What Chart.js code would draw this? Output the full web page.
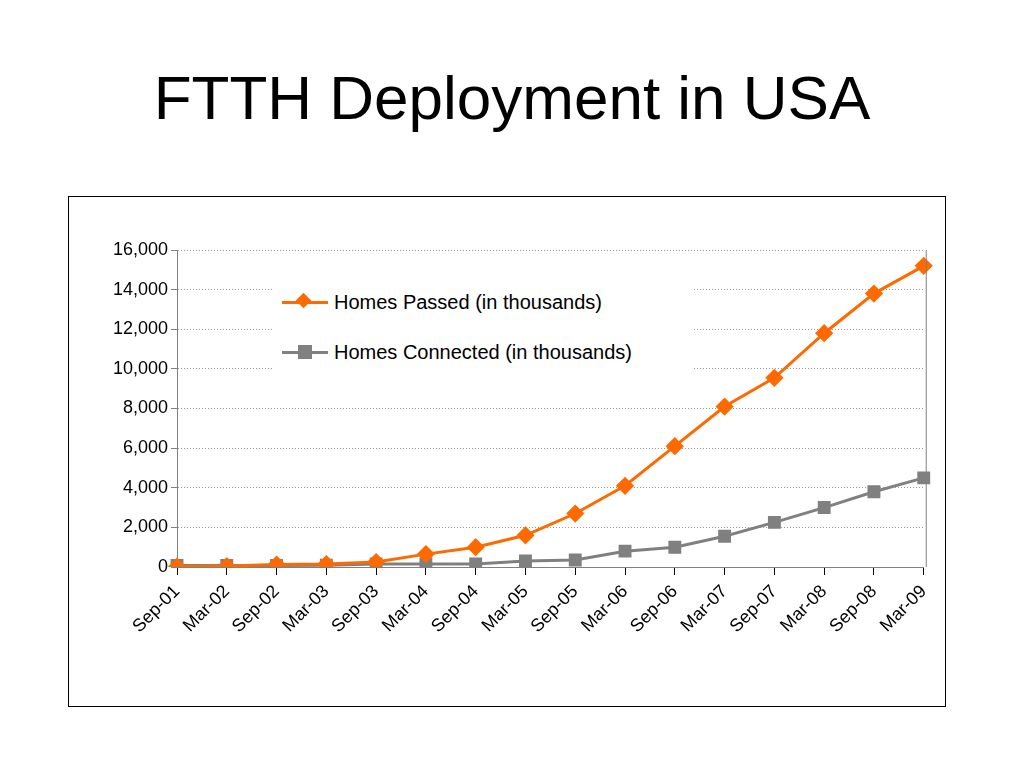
<!DOCTYPE html>
<html><head><meta charset="utf-8">
<script src="https://cdn.jsdelivr.net/npm/chart.js@4"></script>
<style>
body{margin:0;width:1024px;height:768px;background:#fff;font-family:"Liberation Sans",Arial,sans-serif;position:relative;overflow:hidden}
#title{position:absolute;top:62px;left:0;width:1024px;text-align:center;font-size:62px}
#box{position:absolute;left:68px;top:196px;width:876px;height:509px;border:1px solid #000}
#legend{position:absolute;left:272px;top:280px;width:420px;height:92px;background:#fff;font-size:20px}
.row{position:absolute;left:10px;height:24px;line-height:24px;white-space:nowrap}
.ln{position:absolute;top:11px;left:0;width:46px;height:3px}
.mk{position:absolute}
.txt{position:absolute;left:52px;top:0}
</style></head><body>
<div id="title">FTTH Deployment in USA</div>
<div id="box"><canvas id="c" width="876" height="509"></canvas></div>
<div id="legend">
 <div class="row" style="top:10px"><div class="ln" style="background:#ff6a00"></div><div class="mk" style="left:16px;top:5px;width:11px;height:11px;background:#ff6a00;transform:rotate(45deg)"></div><div class="txt">Homes Passed (in thousands)</div></div>
 <div class="row" style="top:60px"><div class="ln" style="background:#808080"></div><div class="mk" style="left:16px;top:5px;width:14px;height:14px;background:#808080"></div><div class="txt">Homes Connected (in thousands)</div></div>
</div>
<script>
var labels = ['Sep-01','Mar-02','Sep-02','Mar-03','Sep-03','Mar-04','Sep-04','Mar-05','Sep-05','Mar-06','Sep-06','Mar-07','Sep-07','Mar-08','Sep-08','Mar-09'];
var homesPassed = [20,50,120,150,250,650,1000,1600,2700,4100,6100,8100,9550,11800,13800,15200];
var homesConnected = [80,80,80,90,150,150,150,300,350,800,1000,1550,2250,3000,3800,4500];

// right border of the plot area
var plotBorder = {
	id: 'plotBorder',
	afterDraw: function(ch) {
		var a = ch.chartArea, c = ch.ctx;
		c.save();
		c.strokeStyle = '#808080';
		c.lineWidth = 1;
		c.beginPath();
		c.moveTo(a.right + 2.5, a.top);
		c.lineTo(a.right + 2.5, a.bottom);
		c.stroke();
		c.restore();
	}
};

var ctx = document.getElementById('c').getContext('2d');
var chart = new Chart(ctx, {
	type: 'line',
	data: {
		labels: labels,
		datasets: [{
			label: 'Homes Passed (in thousands)',
			data: homesPassed,
			borderColor: '#ff6a00',
			backgroundColor: '#ff6a00',
			borderWidth: 3,
			pointStyle: 'rectRot',
			pointRadius: 7,
			tension: 0
		}, {
			label: 'Homes Connected (in thousands)',
			data: homesConnected,
			borderColor: '#808080',
			backgroundColor: '#808080',
			borderWidth: 3,
			pointStyle: 'rect',
			pointRadius: 7,
			tension: 0
		}]
	},
	options: {
		responsive: false,
		animation: false,
		layout: { padding: { top: 53, right: -14, bottom: 0, left: 0 } },
		plugins: { legend: { display: false }, tooltip: { enabled: false } },
		scales: {
			x: {
				offset: false,
				grid: { display: true, drawOnChartArea: false, tickLength: 8, color: '#000' },
				border: { color: '#808080' },
				ticks: { color: '#000', padding: 6, font: { family: 'Liberation Sans', size: 18 }, maxRotation: 45, minRotation: 45, autoSkip: false },
				afterFit: function(s) { s.height = 139; }
			},
			y: {
				min: 0, max: 16000,
				ticks: { stepSize: 2000, color: '#000', font: { family: 'Liberation Sans', size: 18 },
					callback: function(v) { return v.toLocaleString('en-US'); } },
				grid: { color: '#999', tickLength: 6, tickColor: '#808080' },
				border: { color: '#808080', dash: [1, 2] },
				afterFit: function(s) { s.width = 108; }
			}
		}
	},
	plugins: [plotBorder]
});
</script>
</body></html>
